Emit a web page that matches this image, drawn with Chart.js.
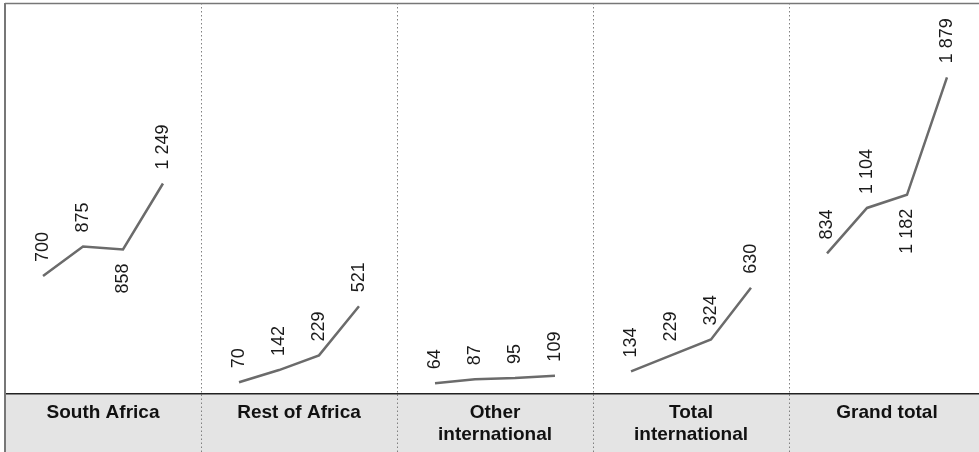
<!DOCTYPE html>
<html>
<head>
<meta charset="utf-8">
<script src="https://cdn.jsdelivr.net/npm/chart.js@4.4.1/dist/chart.umd.min.js"></script>
<style>
  html, body { margin: 0; padding: 0; overflow: hidden; background: #fff; }
  #wrap { width: 985px; height: 452px; }
</style>
</head>
<body>
<div id="wrap"><canvas id="chart"></canvas></div>
<script>
const categories = [['South Africa'], ['Rest of Africa'], ['Other', 'international'], ['Total', 'international'], ['Grand total']];

const southAfrica = [700, 875, 858, 1249];
const restOfAfrica = [70, 142, 229, 521];
const otherInternational = [64, 87, 95, 109];
const totalInternational = [134, 229, 324, 630];
const grandTotal = [834, 1104, 1182, 1879];

const series = [southAfrica, restOfAfrica, otherInternational, totalInternational, grandTotal];

// which value labels sit under their point instead of above
const labelBelow = [
  [false, false, true, false],
  [false, false, false, false],
  [false, false, false, false],
  [false, false, false, false],
  [false, false, true, false]
];

const pointStep = 0.204;   // spacing of the four points inside one panel
const font = '"Liberation Sans", Arial, Helvetica, sans-serif';

function fmt(v){
  return String(v).replace(/\B(?=(\d{3})+(?!\d))/g, ' ');
}

function make(values, i){
  return {
    data: values.map((v, j) => ({x: i + 0.5 + (j - 1.5) * pointStep, y: v})),
    borderColor: '#6b6b6b',
    borderWidth: 2.5,
    pointRadius: 0,
    tension: 0,
    xAxisID: 'x',
    yAxisID: 'y'
  };
}

const frame = {
  id: 'frame',
  beforeDraw(chart){
    const {ctx, chartArea} = chart;
    ctx.save();
    ctx.fillStyle = '#e4e4e4';
    ctx.fillRect(chartArea.left, chartArea.bottom, chart.width - chartArea.left, chart.height - chartArea.bottom);
    ctx.restore();
  },
  afterDraw(chart){
    const {ctx, chartArea} = chart;
    ctx.save();
    ctx.strokeStyle = '#777';
    ctx.lineWidth = 1.5;
    ctx.beginPath();
    ctx.moveTo(chartArea.left, 3.5);
    ctx.lineTo(chart.width, 3.5);
    ctx.stroke();
    ctx.lineWidth = 2;
    ctx.beginPath();
    ctx.moveTo(chartArea.left, 3);
    ctx.lineTo(chartArea.left, chart.height);
    ctx.stroke();
    ctx.restore();
  }
};

const valueLabels = {
  id: 'valueLabels',
  afterDatasetsDraw(chart){
    const ctx = chart.ctx;
    ctx.save();
    ctx.font = '18px ' + font;
    ctx.fillStyle = '#1a1a1a';
    ctx.textBaseline = 'middle';
    chart.data.datasets.forEach((ds, i) => {
      chart.getDatasetMeta(i).data.forEach((pt, j) => {
        const below = labelBelow[i][j];
        ctx.save();
        ctx.translate(pt.x, pt.y + (below ? 14 : -14));
        ctx.rotate(-Math.PI / 2);
        ctx.textAlign = below ? 'right' : 'left';
        ctx.fillText(fmt(ds.data[j].y), 0, 0);
        ctx.restore();
      });
    });
    ctx.restore();
  }
};

new Chart(document.getElementById('chart').getContext('2d'), {
  type: 'line',
  data: {
    datasets: series.map((s, i) => make(s, i))
  },
  options: {
    responsive: true,
    maintainAspectRatio: false,
    animation: false,
    events: [],
    layout: {padding: {left: 5, top: 3, right: 0, bottom: 0}},
    plugins: {legend: {display: false}, tooltip: {enabled: false}},
    scales: {
      x: {type: 'linear', min: 0, max: 5, display: false},
      y: {type: 'linear', min: 0, max: 2320, display: false},
      cat: {
        type: 'category',
        labels: categories,
        position: 'bottom',
        offset: true,
        afterFit(scale){ scale.height = 58; },
        grid: {
          offset: true,
          color: '#808080',
          lineWidth: 1,
          drawTicks: true,
          tickLength: 58,
          tickColor: '#808080',
          tickWidth: 1,
          tickBorderDash: [1.5, 2.5]
        },
        border: {display: true, color: '#222', width: 1.5, dash: [1.5, 2.5]},
        ticks: {
          color: '#111',
          padding: -50,
          maxRotation: 0,
          autoSkip: false,
          font: {family: font, size: 19, weight: 'bold', lineHeight: 1.16}
        }
      }
    }
  },
  plugins: [frame, valueLabels]
});
</script>
</body>
</html>
